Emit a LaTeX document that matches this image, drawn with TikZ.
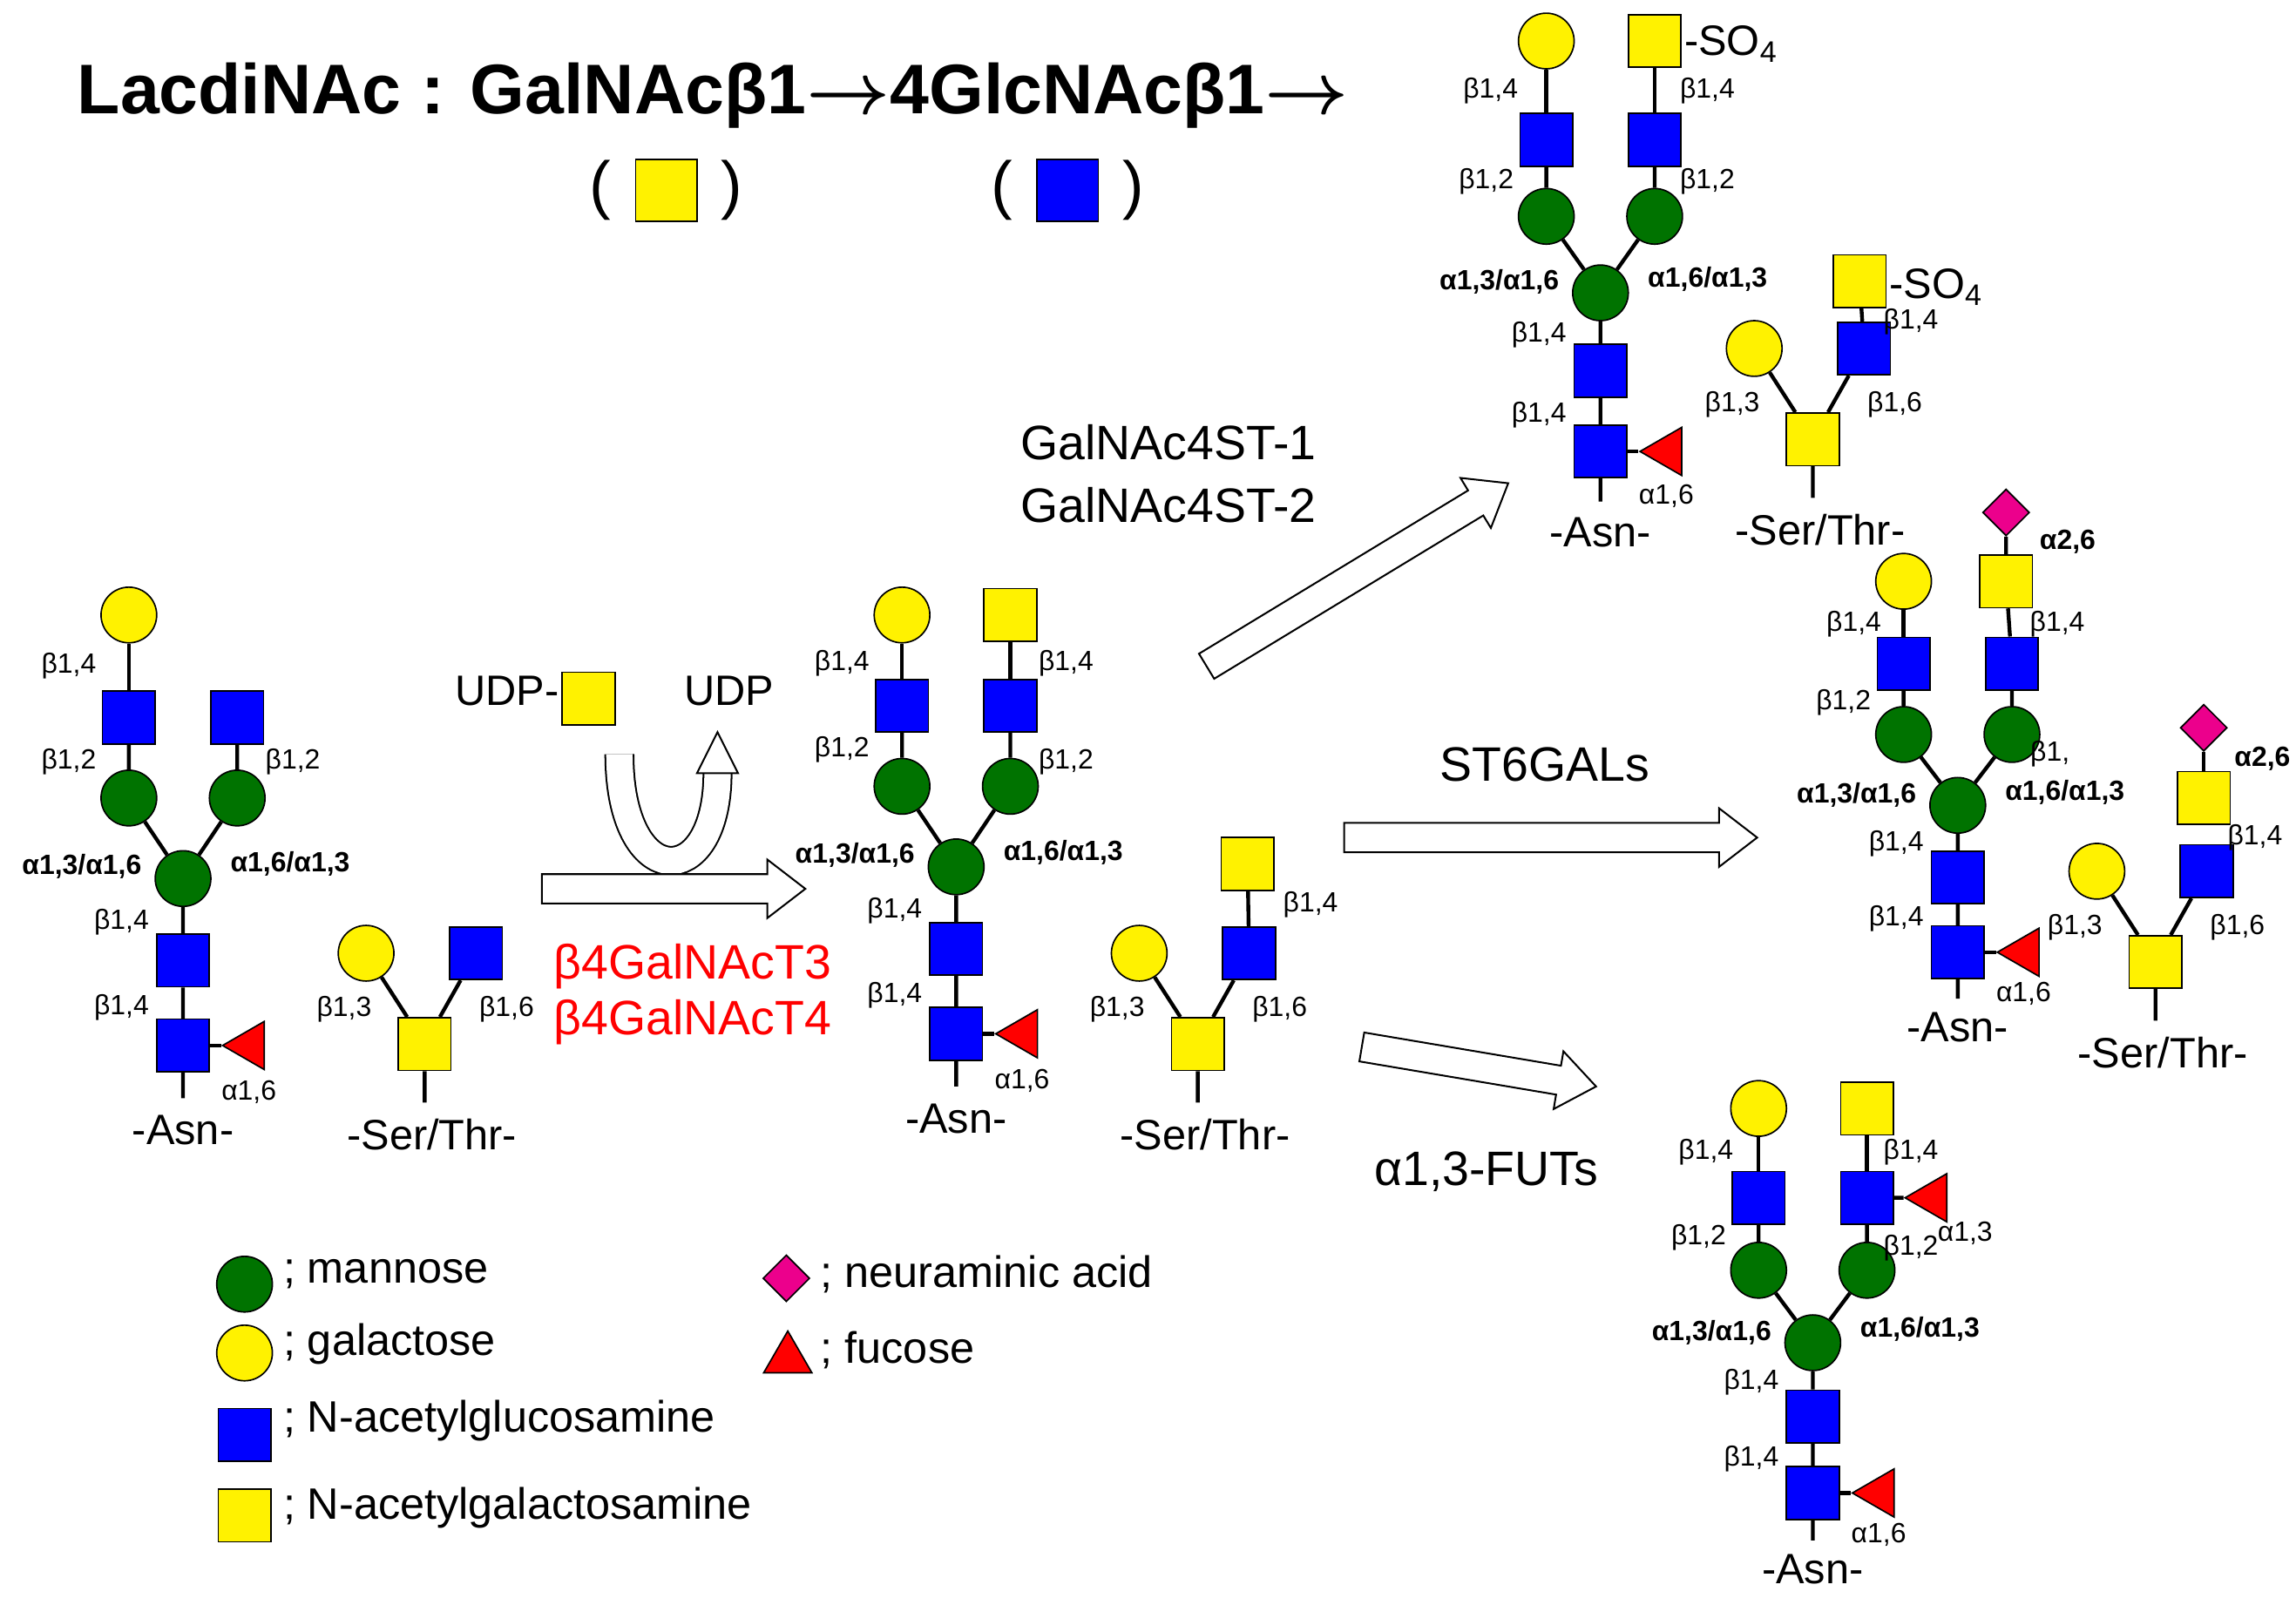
\documentclass[tikz,border=0pt]{standalone}
\usepackage{amsmath}
\usepackage{fontspec}
\setmainfont{Liberation Sans}
\usetikzlibrary{shapes.geometric,calc,backgrounds}
\tikzset{
 sym/.style={draw=black,line width=0.5pt,inner sep=0pt},
 man/.style={sym,circle,fill=green!45!black,minimum size=19pt},
 gal/.style={sym,circle,fill=yellow,minimum size=19pt},
 gn/.style={sym,rectangle,fill=blue,minimum size=18pt},
 gan/.style={sym,rectangle,fill=yellow,minimum size=18pt},
 fuc/.style={sym,regular polygon,regular polygon sides=3,shape border rotate=90,fill=red,minimum size=19pt},
 neu/.style={sym,diamond,fill=magenta,minimum size=16pt},
 bond/.style={line width=1.3pt,black},
 lk/.style={font=\fontsize{9.5}{10}\selectfont,inner sep=0pt},
 lkb/.style={font=\bfseries\fontsize{9.5}{10}\selectfont,inner sep=0pt},
 lab/.style={font=\fontsize{14.5}{16}\selectfont,inner sep=0pt},
 enz/.style={font=\fontsize{16.5}{18}\selectfont,inner sep=0pt,align=center},
 leg/.style={font=\fontsize{15}{17}\selectfont,inner sep=0pt,anchor=west},
 bigarr/.style={draw=black,line width=0.6pt,fill=white},
}
% N-glycan core: prefix, x, y, yscale
\newcommand{\NGly}[4]{%
\begin{scope}[shift={(#2,#3)},yscale=#4]
\node[man](#1m) at (0,0){};
\node[gn](#1c2) at (0,56){};
\node[gn](#1c1) at (0,114){};
\node[fuc](#1f) at (46,114){};
\node[man](#1ml) at (-37,-55){};
\node[man](#1mr) at (37,-55){};
\node[gn](#1gl) at (-37,-110){};
\node[gn](#1gr) at (37,-110){};
\coordinate (#1asn) at (0,150);
\node[lab] (#1asnl) at (0,172){-Asn-};
\node[lk] at (-42,88){β1,4};
\node[lk] at (-42,30){β1,4};
\node[lk] at (45,146){α1,6};
\node[lkb,anchor=east] at (-28,-8){α1,3/α1,6};
\node[lkb,anchor=west] at (32,-10){α1,6/α1,3};
\node[lk] at (-78,-80){β1,2};
\end{scope}
\begin{scope}[on background layer]
\draw[bond] (#1asn)--(#1c1)--(#1c2)--(#1m)--(#1ml)--(#1gl);
\draw[bond] (#1m)--(#1mr)--(#1gr);
\draw[bond] (#1c1)--(#1f);
\end{scope}}
% O-glycan core: prefix, x, y (GalNAc)
\newcommand{\OGly}[3]{%
\begin{scope}[shift={(#2,#3)}]
\node[gan](#1a) at (0,0){};
\node[gal](#1g) at (-40,-62){};
\node[gn](#1n) at (35,-62){};
\coordinate (#1s) at (0,40);
\node[lab] at (5,62){-Ser/Thr-};
\node[lk] at (-55,-24){β1,3};
\node[lk] at (56,-24){β1,6};
\end{scope}
\begin{scope}[on background layer]
\draw[bond] (#1s)--(#1a)--(#1g);\draw[bond] (#1a)--(#1n);
\end{scope}}
% big open arrow from #1 to #2
\newcommand{\BigArr}[2]{%
\path let \p1=($(#2)-(#1)$),\n1={atan2(\y1,\x1)},\n2={veclen(\x1,\y1)} in
 [shift={(#1)},rotate=\n1]
 [bigarr] (0pt,-5pt) -- (\n2-13pt,-5pt) -- (\n2-13pt,-10pt) -- (\n2,0pt) -- (\n2-13pt,10pt) -- (\n2-13pt,5pt) -- (0pt,5pt) -- cycle;}
\newcommand{\TArr}{\ensuremath{\boldsymbol{\rightarrow}}}
\begin{document}
\begin{tikzpicture}[x=0.5pt,y=-0.5pt]
\useasboundingbox (0,0) rectangle (1568,1096);
% title
\node[font=\bfseries\fontsize{24}{28}\selectfont,inner sep=0pt] (title) at (487,65){LacdiNAc : GalNAcβ1\TArr4GlcNAcβ1\TArr};
\node[gan,minimum size=21pt] (tq1) at (455,130){};
\node[font=\fontsize{22}{24}\selectfont] at (410,130){(};
\node[font=\fontsize{22}{24}\selectfont] at (500,130){)};
\node[gn,minimum size=21pt] (tq2) at (729,130){};
\node[font=\fontsize{22}{24}\selectfont] at (684,130){(};
\node[font=\fontsize{22}{24}\selectfont] at (774,130){)};
% left glycans
\NGly{a}{125}{600}{1}
\node[lk] at (200,520){β1,2};
\node[gal](atl) at (88,420){};
\node[lk] at (47,455){β1,4};
\begin{scope}[on background layer]\draw[bond] (agl)--(atl);\end{scope}
\OGly{ao}{290}{713}
% middle glycans
\NGly{b}{653}{592}{1}
\node[lk] at (728,520){β1,2};
\node[gal](btl) at (616,420){};
\node[gan](btr) at (690,420){};
\node[lk] at (575,453){β1,4};
\node[lk] at (728,453){β1,4};
\begin{scope}[on background layer]\draw[bond] (bgl)--(btl);\draw[bond] (bgr)--(btr);\end{scope}
\OGly{bo}{818}{713}
\node[gan](bot) at (852,590){};
\node[lk] at (895,618){β1,4};
\begin{scope}[on background layer]\draw[bond] (bon)--(bot);\end{scope}
% top right
\NGly{c}{1093}{200}{0.95}
\node[lk] at (1166,124){β1,2};
\node[gal](ctl) at (1056,28){};
\node[gan](ctr) at (1130,28){};
\node[lab,anchor=west] at (1150,30){-SO\textsubscript{4}};
\node[lk] at (1018,62){β1,4};
\node[lk] at (1166,62){β1,4};
\begin{scope}[on background layer]\draw[bond] (cgl)--(ctl);\draw[bond] (cgr)--(ctr);\end{scope}
\OGly{co}{1238}{300}
\node[gan](cot) at (1270,192){};
\node[lab,anchor=west] at (1290,196){-SO\textsubscript{4}};
\node[lk] at (1305,220){β1,4};
\begin{scope}[on background layer]\draw[bond] (con)--(cot);\end{scope}
% middle right
\NGly{d}{1337}{550}{0.88}
\node[lk] at (1400,515){β1,};
\node[gal](dtl) at (1300,397){};
\node[gan](dtr) at (1370,397){};
\node[neu](dn) at (1370,350){};
\node[lkb] at (1412,370){α2,6};
\node[lk] at (1266,426){β1,4};
\node[lk] at (1405,426){β1,4};
\begin{scope}[on background layer]\draw[bond] (dgl)--(dtl);\draw[bond] (dgr)--(dtr)--(dn);\end{scope}
\OGly{do}{1472}{657}
\node[gan](dot) at (1505,545){};
\node[neu](don) at (1505,497){};
\node[lkb] at (1545,518){α2,6};
\node[lk] at (1540,572){β1,4};
\begin{scope}[on background layer]\draw[bond] (don)--(dot)--(don);\draw[bond] (dot)--(don);\draw[bond] (don)--(dot);\end{scope}
% bottom right
\NGly{e}{1238}{917}{0.9}
\node[lk] at (1305,852){β1,2};
\node[fuc](ef2) at (1320,818){};
\node[lk] at (1342,842){α1,3};
\node[gal](etl) at (1201,757){};
\node[gan](etr) at (1275,757){};
\node[lk] at (1165,787){β1,4};
\node[lk] at (1305,787){β1,4};
\begin{scope}[on background layer]\draw[bond] (egl)--(etl);\draw[bond] (egr)--(etr);\draw[bond] (egr)--(ef2);\end{scope}
% reaction
\node[lab,anchor=east] (udp1) at (382,472){UDP-};
\node[gan] (udpq) at (402,477){};
\node[lab] (udp2) at (498,472){UDP};
\coordinate (cs) at (423,515);
\coordinate (ce) at (490,528);
\draw[line width=0.6pt,double=white,double distance=9pt] (cs) .. controls (423,610) and (490,610) .. (ce);
\draw[bigarr] (476,528) -- (490,500) -- (504,528) -- cycle;
\coordinate (a1s) at (370,607);\coordinate (a1e) at (550,607);
\BigArr{a1s}{a1e}
\node[enz,red] at (473,660){β4GalNAcT3};
\node[enz,red] at (473,698){β4GalNAcT4};
\coordinate (a2s) at (824,455);\coordinate (a2e) at (1030,330);
\BigArr{a2s}{a2e}
\node[enz] at (798,302){GalNAc4ST-1};
\node[enz] at (798,345){GalNAc4ST-2};
\coordinate (a3s) at (918,572);\coordinate (a3e) at (1200,572);
\BigArr{a3s}{a3e}
\node[enz] at (1055,522){ST6GALs};
\coordinate (a4s) at (930,715);\coordinate (a4e) at (1090,742);
\BigArr{a4s}{a4e}
\node[enz] at (1015,800){α1,3-FUTs};
% legend
\node[man] (l1) at (167,877){};\node[leg] at (193,870){; mannose};
\node[gal] (l2) at (167,924){};\node[leg] at (193,918){; galactose};
\node[gn] (l3) at (167,980){};\node[leg] at (193,970){; N-acetylglucosamine};
\node[gan] (l4) at (167,1035){};\node[leg] at (193,1030){; N-acetylgalactosamine};
\node[neu] (l5) at (537,873){};\node[leg] at (560,870){; neuraminic acid};
\node[fuc,shape border rotate=0] (l6) at (538,928){};\node[leg] at (560,922){; fucose};
\end{tikzpicture}
\end{document}
